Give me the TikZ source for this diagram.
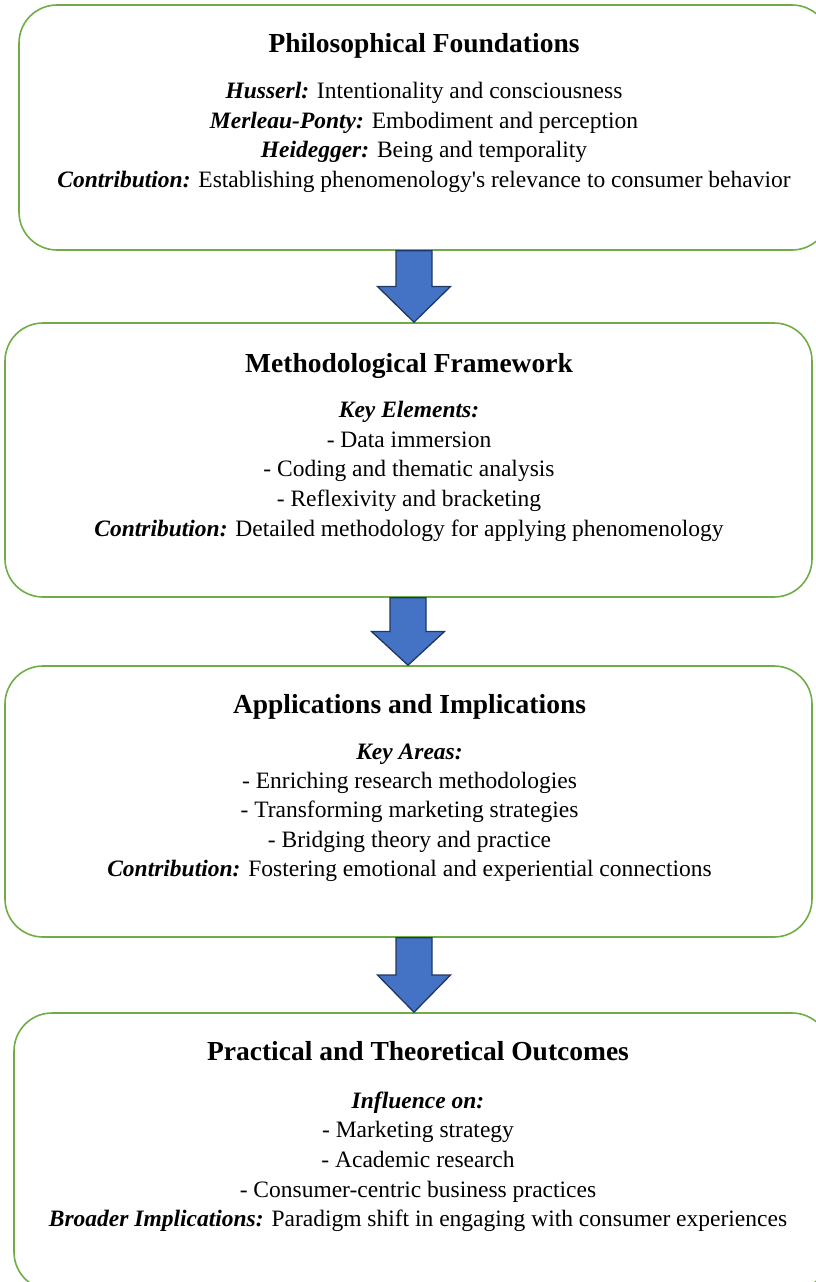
\documentclass[tikz,border=0pt]{standalone}
\usepackage{fontspec}
\setmainfont{Liberation Serif}
\usetikzlibrary{calc}

\definecolor{boxgreen}{HTML}{70AD47}
\definecolor{arrowfill}{HTML}{4472C4}
\definecolor{arrowedge}{HTML}{1F3864}

\tikzset{
  panel/.style={draw=boxgreen, line width=1.6pt, rounded corners=38pt,
                fill=white, inner sep=0pt, rectangle},
  heading/.style={anchor=base, inner sep=0pt,
                  font=\fontsize{27.5}{33}\selectfont\bfseries},
  body/.style={anchor=base, inner sep=0pt,
               font=\fontsize{23.5}{28}\selectfont},
  blockarrow/.style={draw=arrowedge, fill=arrowfill, line width=1.3pt,
                     line join=miter}
}
\newcommand\lbl[1]{\textbf{\textit{#1}}}

% thick downward block arrow between two panels, centred at x = #1
\newcommand\flowarrow[3]{%
  \path let \p1=(#2.south), \p2=(#3.north) in
    [blockarrow]
    ({#1pt-18pt},\y1) -- ({#1pt+18pt},\y1)
    -- ({#1pt+18pt},{0.5*\y1+0.5*\y2}) -- ({#1pt+36.5pt},{0.5*\y1+0.5*\y2})
    -- ({#1pt},\y2)
    -- ({#1pt-36.5pt},{0.5*\y1+0.5*\y2}) -- ({#1pt-18pt},{0.5*\y1+0.5*\y2})
    -- cycle;}

\begin{document}
\begin{tikzpicture}[x=1pt,y=-1pt]
  \useasboundingbox (0,0) rectangle (816,1282);
  \clip (0,0) rectangle (816,1282);

  % panels
  \node[panel, minimum width=811pt, minimum height=245pt] (found) at (424.5,127.5) {};
  \node[panel, minimum width=807pt, minimum height=274pt] (method) at (408.5,460) {};
  \node[panel, minimum width=807pt, minimum height=271pt] (apps) at (408.5,801.5) {};
  \node[panel, minimum width=816pt, minimum height=277pt] (outcomes) at (422,1151.5) {};

  % connectors
  \flowarrow{414}{found}{method}
  \flowarrow{408}{method}{apps}
  \flowarrow{414}{apps}{outcomes}

  % Philosophical Foundations
  \node[heading] (t1) at (424,52) {Philosophical Foundations};
  \node[body] (t1a) at (424,98) {\lbl{Husserl:} Intentionality and consciousness};
  \node[body] (t1b) at (424,128) {\lbl{Merleau-Ponty:} Embodiment and perception};
  \node[body] (t1c) at (424,157.5) {\lbl{Heidegger:} Being and temporality};
  \node[body] (t1d) at (424,187) {\lbl{Contribution:} Establishing phenomenology\textquotesingle s relevance to consumer behavior};

  % Methodological Framework
  \node[heading] (t2) at (409,372) {Methodological Framework};
  \node[body] (t2a) at (409,417) {\lbl{Key Elements:}};
  \node[body] (t2b) at (409,447) {- Data immersion};
  \node[body] (t2c) at (409,476.5) {- Coding and thematic analysis};
  \node[body] (t2d) at (409,506.5) {- Reflexivity and bracketing};
  \node[body] (t2e) at (409,536.5) {\lbl{Contribution:} Detailed methodology for applying phenomenology};

  % Applications and Implications
  \node[heading] (t3) at (409.5,713) {Applications and Implications};
  \node[body] (t3a) at (409.5,759) {\lbl{Key Areas:}};
  \node[body] (t3b) at (409.5,788) {- Enriching research methodologies};
  \node[body] (t3c) at (409.5,817) {- Transforming marketing strategies};
  \node[body] (t3d) at (409.5,847) {- Bridging theory and practice};
  \node[body] (t3e) at (409.5,876) {\lbl{Contribution:} Fostering emotional and experiential connections};

  % Practical and Theoretical Outcomes
  \node[heading] (t4) at (418,1060) {Practical and Theoretical Outcomes};
  \node[body] (t4a) at (418,1108) {\lbl{Influence on:}};
  \node[body] (t4b) at (418,1137) {- Marketing strategy};
  \node[body] (t4c) at (418,1167) {- Academic research};
  \node[body] (t4d) at (418,1197) {- Consumer-centric business practices};
  \node[body] (t4e) at (418,1226) {\lbl{Broader Implications:} Paradigm shift in engaging with consumer experiences};
\end{tikzpicture}
\end{document}
